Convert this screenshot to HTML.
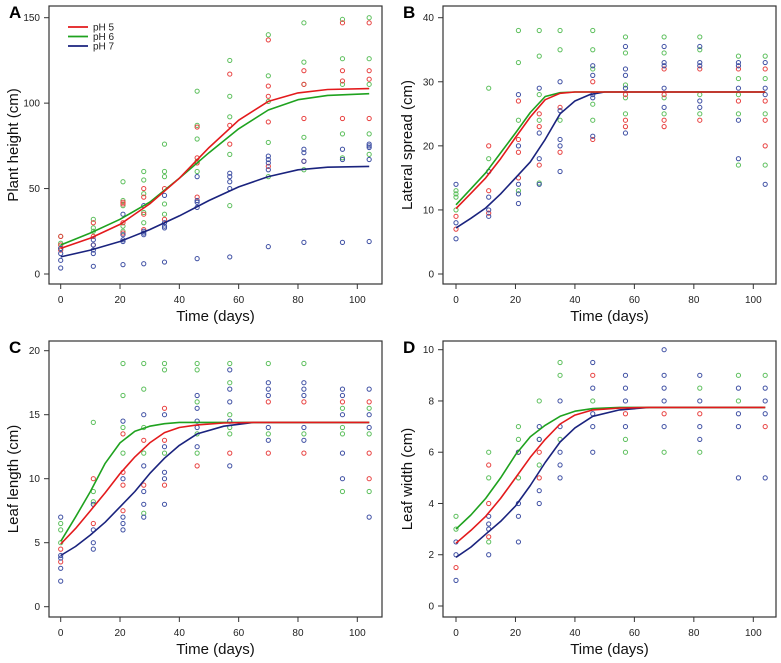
<!DOCTYPE html>
<html><head><meta charset="utf-8"><style>
body{margin:0;background:#fff;}
svg{display:block;font-family:"Liberation Sans",Arial,sans-serif;}
</style></head><body>
<svg id="fig" width="781" height="663" viewBox="0 0 781 663"></svg>
<script>
const days=[0,11,21,28,35,46,57,70,82,95,104];
// Panel A points [green, red, blue] per day
const aGreen=[[22,18,15],[32,27,25],[54,43,40,28,25],[60,55,47,36,30],[76,60,57,41,35],[107,87,79,60,66],[125,104,92,70,40],[140,116,101,77,57],[147,124,111,80,61],[149,126,111,82,68],[150,126,111,82,70]];
const aRed=[[22,17,14],[30,22,17],[42,41,30,24],[50,45,35,26],[50,32],[86,68,65,45],[117,87,76],[137,110,104,89,63],[119,111,91,66],[147,119,113,91],[147,119,114,91]];
const aBlue=[[15,12,8,3.5],[20,17,14,12,4.5],[35,23,20,19,5.5],[40,25,24,23,6],[46,30,28,27,7],[57,43,42,39,9],[59,57,54,50,10],[69,67,65,61,16],[73,71,66,18.5],[73,67,18.5],[76,75,74,67,19]];
const aCurveX=[0,10,20,30,40,50,60,70,80,90,104];
const aCurve5=[15,21,29,41,56,74,90,101,106,108,108.5];
const aCurve6=[17,24,32,42,56,71,85,96,102,104.5,105.5];
const aCurve7=[10,14,19,26,34,43,51,57,61,62.5,63];
// Panel B
const bGreen=[[13,12.5,12,10],[29,18,16],[38,33,24,13],[38,34,28,24,14.2],[38,35,24],[38,35,32,26.5,24],[37,34.5,29.5,27.5,25],[37,34.5,27.5,25],[37,35,28,25],[34,30.5,28,25,17],[34,30.5,25,17]];
const bRed=[[9,7],[20,13,9.5],[27,21,19,15],[25,23,17],[26,19],[30,21],[28,24,23],[32,28,24,23],[32,24],[32,27],[32,27,24,20]];
const bBlue=[[14,8,5.5],[16,12,10,9],[28,20,14,12.5,11],[29,22,18,14],[30,25.5,21,20,16],[32.5,31,28,27.5,21.5],[35.5,32,31,29,22],[35.5,33,32.5,29,26],[35.5,33,32.5,27,26],[33,32.5,29,24,18],[33,29,28,14]];
const bCurveX=[0,5,10,15,20,25,30,35,40,45,50,60,104];
const bCurve5=[10.2,12.6,15,18,21.3,24.5,27.2,28.2,28.4,28.4,28.4,28.4,28.4];
const bCurve6=[10.8,13.3,15.8,18.9,22,25.2,27.7,28.3,28.4,28.4,28.4,28.4,28.4];
const bCurve7=[7.2,8.7,10.3,12.5,15,17.5,21,25,27,28,28.4,28.4,28.4];
// Panel C
const cGreen=[[6.5,6,5],[14.4,9,8.2],[19,16.5,14,12],[19,17,14,12,7.3],[19,18.5,12],[19,18.5,16,13.5,12],[19,17.5,15,14,13.5],[19,13.5],[19,13.5],[15.5,14,13.5,9],[15.5,13.5,9]];
const cRed=[[4.5,3.5],[10,6.5],[13.5,10.5,9.5,7.5],[13,9.5],[15.5,13,9.5],[11],[12],[16,12],[16,12],[16],[16,12,10]];
const cBlue=[[7,4,3.8,3,2],[8,6,5,4.5],[14.5,10,7,6.5,6],[15,11,9,8,7],[15,12.5,10.5,10,8],[16.5,15.5,14.5,14,12.5],[18.5,17,16,14.5,11],[17.5,17,16.5,14,13],[17.5,17,16.5,14,13],[17,16.5,15,12,10],[17,15,14,7]];
const cCurveX=[0,5,10,15,20,25,30,35,40,46,55,65,104];
const cCurve5=[4.9,6.1,7.5,8.9,10.4,11.7,12.8,13.6,14,14.2,14.35,14.4,14.4];
const cCurve6=[5.1,7,9,11.2,12.8,13.7,14.1,14.3,14.4,14.4,14.4,14.4,14.4];
const cCurve7=[4,4.7,5.6,6.6,7.8,9,10.4,11.6,12.6,13.5,14.1,14.4,14.4];
// Panel D
const dGreen=[[3.5,3],[6,5,2.5],[7,6.5,5],[8,6.5,5.5],[9.5,9,6.5],[8],[6.5,6],[6],[8.5,6],[9,8],[9]];
const dRed=[[1.5],[5.5,4,2.7],[6],[6,5],[],[9],[7.5],[7.5],[7.5],[],[7]];
const dBlue=[[2.5,2,1],[3.5,3.2,3,2],[6,4,3.5,2.5],[7,6.5,4.5,4],[8,7,6,5.5,5],[9.5,8.5,7.5,7,6],[9,8.5,8,7],[10,9,8.5,8,7],[9,8,7,6.5],[8.5,7.5,7,5],[8.5,8,7.5,5]];
const dCurveX=[0,5,10,15,20,25,30,35,40,46,55,65,104];
const dCurve5=[2.45,2.95,3.5,4.2,5,5.8,6.5,7.1,7.45,7.65,7.72,7.75,7.75];
const dCurve6=[3,3.55,4.2,5,5.9,6.6,7.05,7.4,7.6,7.7,7.75,7.75,7.75];
const dCurve7=[1.9,2.3,2.8,3.3,3.9,4.7,5.6,6.4,6.95,7.4,7.65,7.75,7.75];
const xTicks=[0,20,40,60,80,100];
const yTicksA=[0,50,100,150],yTicksB=[0,10,20,30,40],yTicksC=[0,5,10,15,20],yTicksD=[0,2,4,6,8,10];

const NS="http://www.w3.org/2000/svg";
const svg=document.getElementById('fig');
function mk(t,a,p){const e=document.createElementNS(NS,t);for(const k in a)e.setAttribute(k,a[k]);(p||svg).appendChild(e);return e;}
const PC={g:'#5cbf5c',r:'#e8403f',b:'#3e4fa3'};
const LC={r:'#e31a1c',g:'#1fa21f',b:'#1a237e'};

function panel(o){
  const g=mk('g',{});
  
  
  const sx=d=>o.x0+(d/100)*(o.x100-o.x0);
  const sy=v=>o.y0-(v/o.ymax)*(o.y0-o.ytop);
  const box=mk('rect',{x:o.L,y:o.T,width:o.R-o.L,height:o.B-o.T,fill:'none',stroke:'#333','stroke-width':1.2},g);
  
  xTicks.forEach(t=>{const x=sx(t);
    mk('line',{x1:x,x2:x,y1:o.B,y2:o.B+5,stroke:'#333'},g);
    const tx=mk('text',{x:x,y:o.B+19,'font-size':10,'text-anchor':'middle',fill:'#222'},g);tx.textContent=t;
    });
  o.yt.forEach(t=>{const y=sy(t);
    mk('line',{x1:o.L-5,x2:o.L,y1:y,y2:y,stroke:'#333'},g);
    const tx=mk('text',{x:o.L-9,y:y+3.5,'font-size':10,'text-anchor':'end',fill:'#222'},g);tx.textContent=t;
    });
  const xl=mk('text',{x:(o.L+o.R)/2,y:o.B+37,'font-size':15,'text-anchor':'middle',fill:'#111'},g);xl.textContent='Time (days)';
  
  const cy=(o.T+o.B)/2;
  const yl=mk('text',{x:o.L-31,y:cy,'font-size':15,'text-anchor':'middle',fill:'#111',transform:`rotate(-90 ${o.L-31} ${cy})`},g);yl.textContent=o.ylab;
  
  const lt=mk('text',{x:o.L-40,y:o.T+12,'font-size':17,'font-weight':'bold',fill:'#000'},g);lt.textContent=o.letter;
  
  [['g',o.pg],['r',o.pr],['b',o.pb]].forEach(([c,arr])=>{
    arr.forEach((vals,i)=>vals.forEach(v=>{
      const p=mk('circle',{cx:sx(days[i]),cy:sy(v),r:2.1,fill:'none',stroke:PC[c],'stroke-width':1},g);
      }));
  });
  [['b',o.c7],['g',o.c6],['r',o.c5]].forEach(([c,arr])=>{
    const d=arr.map((v,i)=>(i?'L':'M')+sx(o.cx[i]).toFixed(1)+','+sy(v).toFixed(1)).join('');
    const l=mk('path',{d:d,fill:'none',stroke:LC[c],'stroke-width':1.6,'stroke-linejoin':'round'},g);
    
  });
}
const XA={x0:60.7,x100:357.3,L:49,R:382},XB={x0:456,x100:753.3,L:443,R:776};
panel({...XA,T:6,B:284,y0:274,ytop:17.7,ymax:150,yt:yTicksA,ylab:'Plant height (cm)',letter:'A',pg:aGreen,pr:aRed,pb:aBlue,cx:aCurveX,c5:aCurve5,c6:aCurve6,c7:aCurve7});
panel({...XB,T:6,B:284,y0:274,ytop:17.7,ymax:40,yt:yTicksB,ylab:'Lateral spread (cm)',letter:'B',pg:bGreen,pr:bRed,pb:bBlue,cx:bCurveX,c5:bCurve5,c6:bCurve6,c7:bCurve7});
panel({...XA,T:341,B:617,y0:606.7,ytop:350.7,ymax:20,yt:yTicksC,ylab:'Leaf length (cm)',letter:'C',pg:cGreen,pr:cRed,pb:cBlue,cx:cCurveX,c5:cCurve5,c6:cCurve6,c7:cCurve7});
panel({...XB,T:341,B:617,y0:606,ytop:349.7,ymax:10,yt:yTicksD,ylab:'Leaf width (cm)',letter:'D',pg:dGreen,pr:dRed,pb:dBlue,cx:dCurveX,c5:dCurve5,c6:dCurve6,c7:dCurve7});
// legend
const leg=mk('g',{});

[['r','pH 5',27],['g','pH 6',36.5],['b','pH 7',46]].forEach(([c,t,y])=>{
  const e=mk('g',{},leg);
  
  mk('line',{x1:68,x2:88,y1:y,y2:y,stroke:LC[c],'stroke-width':1.8},e);
  const tx=mk('text',{x:93,y:y+3.5,'font-size':10,fill:'#222'},e);tx.textContent=t;
});
</script>
</body></html>
